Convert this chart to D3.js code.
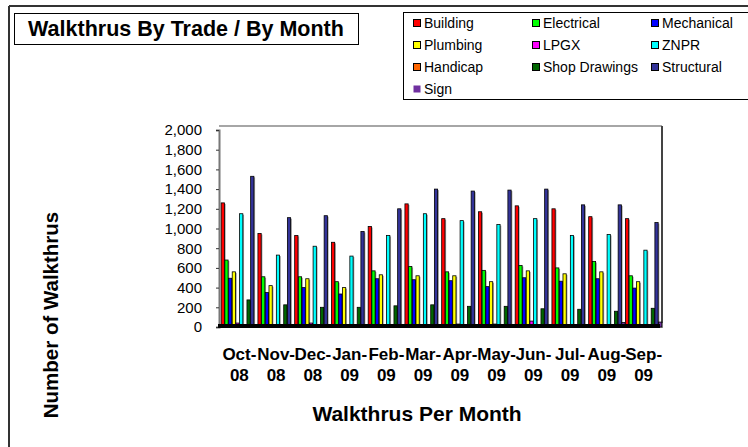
<!DOCTYPE html>
<html>
<head>
<meta charset="utf-8">
<script src="https://cdn.jsdelivr.net/npm/d3@7"></script>
<style>
  body { margin: 0; background: #fff; }
  svg { display: block; font-family: Arial, "Liberation Sans", sans-serif; }
</style>
</head>
<body>
<div id="vis"></div>
<script>
// Month categories and one array per trade
const MONTHS = ["Oct-08", "Nov-08", "Dec-08", "Jan-09", "Feb-09", "Mar-09",
                "Apr-09", "May-09", "Jun-09", "Jul-09", "Aug-09", "Sep-09"];
const BUILDING   = [1260, 950, 930, 860, 1020, 1250, 1100, 1170, 1230, 1200, 1120, 1100];
const ELECTRICAL = [680, 510, 510, 460, 570, 615, 560, 575, 625, 600, 665, 520];
const MECHANICAL = [495, 350, 400, 335, 490, 480, 470, 410, 500, 465, 490, 395];
const PLUMBING   = [560, 420, 490, 400, 530, 520, 520, 460, 570, 540, 560, 460];
const LPGX       = [40, 15, 40, 20, 15, 20, 30, 30, 60, 15, 15, 15];
const ZNPR       = [1150, 730, 820, 720, 930, 1150, 1080, 1040, 1100, 930, 940, 780];
const HANDICAP   = [4, 3, 4, 3, 3, 4, 3, 3, 4, 3, 3, 3];
const SHOP       = [275, 225, 200, 200, 215, 225, 210, 210, 185, 180, 160, 190];
const STRUCTURAL = [1530, 1110, 1130, 970, 1200, 1400, 1380, 1390, 1400, 1240, 1240, 1060];
const SIGN       = [10, 15, 15, 10, 15, 15, 10, 10, 10, 15, 45, 50];
const Y_TICKS = [0, 200, 400, 600, 800, 1000, 1200, 1400, 1600, 1800, 2000];

const SERIES = [
  {name: "Building", color: "#ff0000", values: BUILDING},
  {name: "Electrical", color: "#00ff00", values: ELECTRICAL},
  {name: "Mechanical", color: "#0000ff", values: MECHANICAL},
  {name: "Plumbing", color: "#ffff00", values: PLUMBING},
  {name: "LPGX", color: "#ff00ff", values: LPGX},
  {name: "ZNPR", color: "#00ffff", values: ZNPR},
  {name: "Handicap", color: "#ff6600", values: HANDICAP},
  {name: "Shop Drawings", color: "#006600", values: SHOP},
  {name: "Structural", color: "#333399", values: STRUCTURAL},
  {name: "Sign", color: "#7030a0", values: SIGN}
];

const FRAME_WIDTH = 748;
const FRAME_HEIGHT = 447;
const PLOT = {left: 221, right: 662, top: 130, bottom: 327};

const FRAME = d3.select("#vis")
  .append("svg")
    .attr("width", FRAME_WIDTH)
    .attr("height", FRAME_HEIGHT);

// outer chart border (top and left visible)
FRAME.append("line").attr("x1", 9).attr("y1", 6).attr("x2", FRAME_WIDTH).attr("y2", 6)
  .attr("stroke", "#333").attr("stroke-width", 2);
FRAME.append("line").attr("x1", 9).attr("y1", 6).attr("x2", 9).attr("y2", FRAME_HEIGHT)
  .attr("stroke", "#333").attr("stroke-width", 2);

// Title box
FRAME.append("rect")
  .attr("x", 14.5).attr("y", 13.5).attr("width", 344).attr("height", 31)
  .attr("fill", "#fff").attr("stroke", "#000").attr("stroke-width", 1);
FRAME.append("text")
  .attr("x", 186).attr("y", 36)
  .attr("text-anchor", "middle")
  .style("font-size", "21.5px").style("font-weight", "bold")
  .text("Walkthrus By Trade / By Month");

// Scales
const X_SCALE = d3.scaleBand()
  .domain(MONTHS)
  .range([PLOT.left, PLOT.right]);
const X_INNER = d3.scaleBand()
  .domain(SERIES.map(s => s.name))
  .range([0, X_SCALE.bandwidth()])
  .paddingInner(0.12)
  .paddingOuter(0.05);
const Y_SCALE = d3.scaleLinear()
  .domain([0, 2000])
  .range([PLOT.bottom, PLOT.top]);

// plot walls
FRAME.append("line").attr("x1", PLOT.left - 2).attr("y1", 126).attr("x2", PLOT.right).attr("y2", 126)
  .attr("stroke", "#888").attr("stroke-width", 1.5);
FRAME.append("line").attr("x1", PLOT.right).attr("y1", 126).attr("x2", PLOT.right).attr("y2", PLOT.bottom)
  .attr("stroke", "#444").attr("stroke-width", 2);

// y axis
const yAxis = FRAME.append("g")
  .attr("transform", "translate(" + (PLOT.left - 2) + ",0)")
  .call(d3.axisLeft(Y_SCALE).tickValues(Y_TICKS).tickSize(3).tickPadding(14)
        .tickFormat(d3.format(",")));
yAxis.select(".domain").attr("stroke", "#777").attr("stroke-width", 2);
yAxis.selectAll(".tick line").attr("stroke", "#333");
yAxis.selectAll("text").style("font-size", "15px").attr("fill", "#000")
  .style("font-family", "Arial, 'Liberation Sans', sans-serif");

// bars
const groups = FRAME.append("g")
  .selectAll("g")
  .data(MONTHS)
  .enter()
  .append("g")
    .attr("transform", (d) => "translate(" + X_SCALE(d) + ",0)");

groups.selectAll(".shadow")
  .data((m, i) => SERIES.map(s => ({name: s.name, color: s.color, v: s.values[i]})))
  .enter()
  .append("rect")
    .attr("class", "shadow")
    .attr("x", (d) => X_INNER(d.name) + 1.2)
    .attr("y", (d) => Y_SCALE(d.v) + 1)
    .attr("width", X_INNER.bandwidth())
    .attr("height", (d) => PLOT.bottom - Y_SCALE(d.v))
    .attr("fill", "#999");

groups.selectAll(".bar")
  .data((m, i) => SERIES.map(s => ({name: s.name, color: s.color, v: s.values[i]})))
  .enter()
  .append("rect")
    .attr("class", "bar")
    .attr("x", (d) => X_INNER(d.name))
    .attr("y", (d) => Y_SCALE(d.v))
    .attr("width", X_INNER.bandwidth())
    .attr("height", (d) => PLOT.bottom - Y_SCALE(d.v))
    .attr("fill", (d) => d.color)
    .attr("stroke", "#000")
    .attr("stroke-width", 0.8);

// floor
FRAME.append("rect")
  .attr("x", PLOT.left - 3).attr("y", PLOT.bottom - 3)
  .attr("width", PLOT.right - PLOT.left + 1).attr("height", 4)
  .attr("fill", "#000");

// month labels on two lines
const xLabels = FRAME.append("g")
  .selectAll("text")
  .data(MONTHS)
  .enter()
  .append("text")
    .attr("text-anchor", "middle")
    .style("font-size", "17px").style("font-weight", "bold");
xLabels.append("tspan")
  .attr("x", (d) => X_SCALE(d) + X_SCALE.bandwidth() / 2)
  .attr("y", 360)
  .text((d) => d.split("-")[0] + "-");
xLabels.append("tspan")
  .attr("x", (d) => X_SCALE(d) + X_SCALE.bandwidth() / 2)
  .attr("y", 381)
  .text((d) => d.split("-")[1]);

// axis titles
FRAME.append("text")
  .attr("x", 417).attr("y", 421)
  .attr("text-anchor", "middle")
  .style("font-size", "21px").style("font-weight", "bold")
  .text("Walkthrus Per Month");
FRAME.append("text")
  .attr("transform", "translate(58,315) rotate(-90)")
  .attr("text-anchor", "middle")
  .style("font-size", "20.5px").style("font-weight", "bold")
  .text("Number of Walkthrus");

// legend
FRAME.append("rect")
  .attr("x", 403.5).attr("y", 12.5).attr("width", 360).attr("height", 87)
  .attr("fill", "#fff").attr("stroke", "#000").attr("stroke-width", 1);
const COLS = [413, 532, 651];
const ROWS = [23, 45, 67, 89];
const legend = FRAME.append("g")
  .selectAll("g")
  .data(SERIES)
  .enter()
  .append("g")
    .attr("transform", (d, i) => "translate(" + COLS[i % 3] + "," + ROWS[Math.floor(i / 3)] + ")");
legend.append("rect")
  .attr("x", 0.5).attr("y", -3.5).attr("width", 7).attr("height", 7)
  .attr("fill", (d) => d.color)
  .attr("stroke", (d) => d.name === "Sign" ? "none" : "#000").attr("stroke-width", 1);
legend.append("text")
  .attr("x", 11).attr("y", 5)
  .style("font-size", "14px")
  .text((d) => d.name);
</script>
</body>
</html>
